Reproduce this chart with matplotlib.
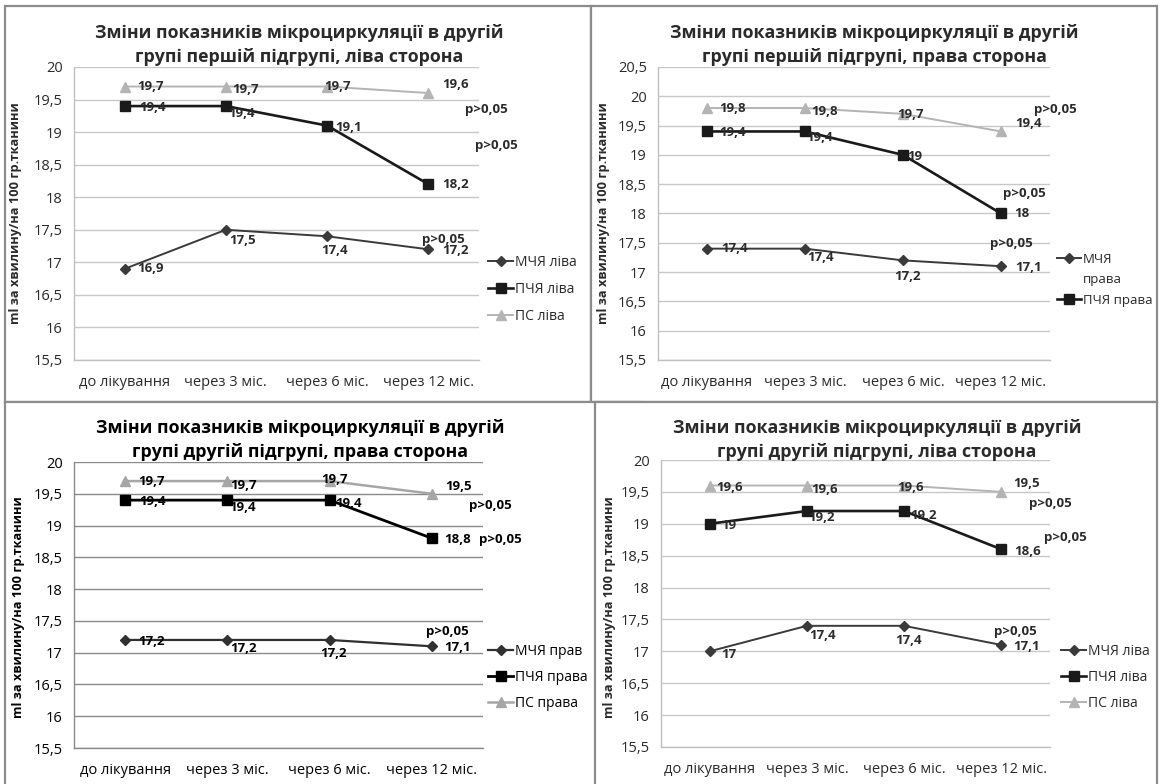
import matplotlib
matplotlib.use('Agg')
import matplotlib.pyplot as plt
from matplotlib.patches import Rectangle
from matplotlib.lines import Line2D
from matplotlib.ticker import FuncFormatter, MultipleLocator

plt.rcParams['font.family'] = ['Open Sans', 'DejaVu Sans']

# ---------------- data ----------------
categories = ['до лікування', 'через 3 міс.', 'через 6 міс.', 'через 12 міс.']
y_label = 'ml за хвилину/на 100 гр.тканини'
p_text = 'p>0,05'

title_a = 'Зміни показників мікроциркуляції в другій\nгрупі першій підгрупі, ліва сторона'
names_a = ['МЧЯ ліва', 'ПЧЯ ліва', 'ПС ліва']
mchya_a = [16.9, 17.5, 17.4, 17.2]
pchya_a = [19.4, 19.4, 19.1, 18.2]
ps_a = [19.7, 19.7, 19.7, 19.6]

title_b = 'Зміни показників мікроциркуляції в другій\nгрупі першій підгрупі, права сторона'
names_b = ['МЧЯ\nправа', 'ПЧЯ права', 'ПС права']
mchya_b = [17.4, 17.4, 17.2, 17.1]
pchya_b = [19.4, 19.4, 19.0, 18.0]
ps_b = [19.8, 19.8, 19.7, 19.4]

title_c = 'Зміни показників мікроциркуляції в другій\nгрупі другій підгрупі, права сторона'
names_c = ['МЧЯ прав', 'ПЧЯ права', 'ПС права']
mchya_c = [17.2, 17.2, 17.2, 17.1]
pchya_c = [19.4, 19.4, 19.4, 18.8]
ps_c = [19.7, 19.7, 19.7, 19.5]

title_d = 'Зміни показників мікроциркуляції в другій\nгрупі другій підгрупі, ліва сторона'
names_d = ['МЧЯ ліва', 'ПЧЯ ліва', 'ПС ліва']
mchya_d = [17.0, 17.4, 17.4, 17.1]
pchya_d = [19.0, 19.2, 19.2, 18.6]
ps_d = [19.6, 19.6, 19.6, 19.5]

# ---------------- layout ----------------
W, H = 1160, 784
fig = plt.figure(figsize=(W / 100, H / 100), dpi=100)
fig.patch.set_facecolor('white')


def fx(x):
    return x / W


def fy(y):
    return 1 - y / H


def fmt(v, pos=None):
    s = ('%.1f' % v).rstrip('0').rstrip('.')
    return s.replace('.', ',')


panels = [
    dict(title=title_a, names=names_a, series=[mchya_a, pchya_a, ps_a],
         frame=(5, 6, 591, 402), ax=(74, 67, 479, 360), ylim=(15.5, 20),
         title_xy=(299, 45), ylab_xy=(16, 213), leg_xy=(488, 255), leg_n=3,
         leg_fs=10, leg_sp=0.85,
         pvals=[(486, 110), (496, 146), (443, 240)],
         offs=[[(13, 0), (3, 11), (-6, 14), (14, 1)],
               [(15, 1), (2, 7), (8, 2), (14, 0)],
               [(13, 0), (6, 3), (-3, 0), (14, -9)]],
         crisp=False),
    dict(title=title_b, names=names_b, series=[mchya_b, pchya_b, ps_b],
         frame=(591, 6, 1157, 402), ax=(658, 67, 1050, 360), ylim=(15.5, 20.5),
         title_xy=(874, 45), ylab_xy=(604, 213), leg_xy=(1057, 253), leg_n=2,
         leg_fs=9.5, leg_sp=0.55,
         pvals=[(1055, 110), (1024, 193), (1011, 243)],
         offs=[[(14, 0), (2, 9), (-9, 16), (14, 1)],
               [(12, 1), (1, 6), (4, 2), (13, 0)],
               [(12, 0), (6, 3), (-6, 1), (14, -8)]],
         crisp=False),
    dict(title=title_c, names=names_c, series=[mchya_c, pchya_c, ps_c],
         frame=(5, 402, 640, 800), ax=(74, 462, 483, 748), ylim=(15.5, 20),
         title_xy=(300, 440), ylab_xy=(19, 607), leg_xy=(488, 644), leg_n=3,
         leg_fs=10, leg_sp=0.8,
         pvals=[(490, 505), (500, 539), (447, 632)],
         offs=[[(13, 2), (3, 9), (-9, 14), (12, 1)],
               [(14, 1), (2, 7), (6, 3), (12, 1)],
               [(13, 0), (3, 4), (-8, -2), (13, -7)]],
         crisp=True),
    dict(title=title_d, names=names_d, series=[mchya_d, pchya_d, ps_d],
         frame=(595, 402, 1157, 800), ax=(661, 460, 1050, 747), ylim=(15.5, 20),
         title_xy=(877, 440), ylab_xy=(609, 607), leg_xy=(1061, 644), leg_n=3,
         leg_fs=10, leg_sp=0.8,
         pvals=[(1050, 503), (1065, 538), (1015, 631)],
         offs=[[(12, 3), (2, 10), (-9, 15), (12, 2)],
               [(12, 2), (1, 6), (6, 4), (13, 2)],
               [(7, 2), (4, 4), (-7, 2), (12, -8)]],
         crisp=False),
]

markers = ['D', 's', '^']
msizes = {'D': 4.8, 's': 6.5, '^': 6.5}

for i, p in enumerate(panels):
    crisp = p['crisp']
    txt_col = '#000000' if crisp else '#2a2a2a'
    grid_col = '#8a8a8a' if crisp else '#c8c8c8'
    spine_col = '#8a8a8a' if crisp else '#c0c0c0'
    line_cols = (['#303030', '#000000', '#a6a6a6'] if crisp
                 else ['#3a3a3a', '#1a1a1a', '#b4b4b4'])
    lws = [1.6, 2.0, 1.8] if crisp else [1.4, 1.9, 1.4]

    # panel frame (white background covering earlier panels)
    x0, y0, x1, y1 = p['frame']
    fig.add_artist(Rectangle((fx(x0), fy(y1)), fx(x1) - fx(x0), fy(y0) - fy(y1),
                             transform=fig.transFigure, facecolor='white',
                             edgecolor='#8c8c8c', linewidth=1.6, zorder=2 * i))

    ax0, ay0, ax1, ay1 = p['ax']
    ax = fig.add_axes([fx(ax0), fy(ay1), fx(ax1) - fx(ax0), fy(ay0) - fy(ay1)])
    ax.set_zorder(2 * i + 1)
    ax.patch.set_alpha(0)
    xs = list(range(len(categories)))
    handles = []
    for k, (vals, name) in enumerate(zip(p['series'], p['names'])):
        ln, = ax.plot(xs, vals, color=line_cols[k], marker=markers[k],
                      markersize=msizes[markers[k]], linewidth=lws[k],
                      zorder=3 + k, clip_on=False)
        handles.append(ln)
        for j, v in enumerate(vals):
            dx, dy = p['offs'][k][j]
            ax.annotate(fmt(v), (xs[j], v), xytext=(dx, -dy), textcoords='offset pixels',
                        ha='left', va='center', fontsize=9.5, fontweight='bold',
                        color=txt_col, zorder=10)

    ax.set_xlim(-0.5, len(categories) - 0.5)
    ax.set_ylim(*p['ylim'])
    ax.yaxis.set_major_locator(MultipleLocator(0.5))
    ax.yaxis.set_major_formatter(FuncFormatter(fmt))
    ax.set_xticks(xs)
    ax.set_xticklabels(categories)
    ax.tick_params(axis='both', length=0, labelsize=10.5, colors=txt_col)
    ax.tick_params(axis='y', pad=8)
    ax.tick_params(axis='x', pad=11)
    ax.grid(axis='y', color=grid_col, linewidth=1.0)
    ax.set_axisbelow(True)
    for s in ['top', 'right']:
        ax.spines[s].set_visible(False)
    for s in ['left', 'bottom']:
        ax.spines[s].set_color(spine_col)
        ax.spines[s].set_linewidth(1.0)

    # title
    tx, ty = p['title_xy']
    ax.text(fx(tx), fy(ty), p['title'], transform=fig.transFigure, ha='center',
            va='center', fontsize=12.8, fontweight='bold', color=txt_col,
            linespacing=1.45)
    # y label
    lx, ly = p['ylab_xy']
    ax.text(fx(lx), fy(ly), y_label, transform=fig.transFigure, rotation=90,
            ha='center', va='center', fontsize=9.2, fontweight='bold', color=txt_col)
    # p-values
    for (px_, py_) in p['pvals']:
        ax.text(fx(px_), fy(py_), p_text, transform=fig.transFigure, ha='center',
                va='center', fontsize=9.5, fontweight='bold', color=txt_col)
    # legend (a wrapped label gets its continuation line as a handle-less row)
    n = p['leg_n']
    leg_handles, leg_labels = [], []
    for h, name in zip(handles[:n], p['names'][:n]):
        parts = name.split('\n')
        leg_handles.append(h)
        leg_labels.append(parts[0])
        for extra in parts[1:]:
            leg_handles.append(Line2D([], [], linestyle='none', marker=None))
            leg_labels.append(extra)
    lgx, lgy = p['leg_xy']
    leg = ax.legend(leg_handles, leg_labels, loc='upper left',
                    bbox_to_anchor=(fx(lgx), fy(lgy)), bbox_transform=fig.transFigure,
                    frameon=False, fontsize=p['leg_fs'], handlelength=1.8,
                    handletextpad=0.15, labelspacing=p['leg_sp'], borderpad=0,
                    borderaxespad=0)
    for t in leg.get_texts():
        t.set_color(txt_col)

fig.savefig('out.png', dpi=100, facecolor='white')
